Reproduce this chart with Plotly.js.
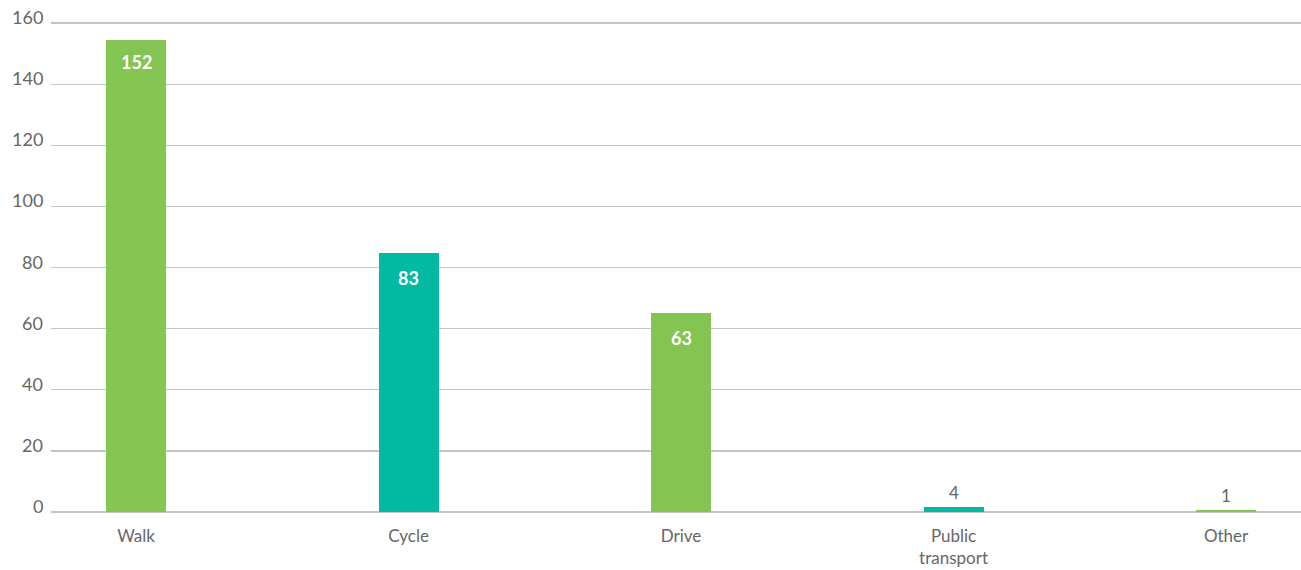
<!DOCTYPE html>
<html>
<head>
<meta charset="utf-8">
<script src="https://cdn.plot.ly/plotly-3.0.1.min.js"></script>
<style>html,body{margin:0;padding:0;background:#fff;}#chart{width:1301px;height:570px;}</style>
</head>
<body>
<div id="chart"></div>
<script>
// Categories and values
const categories = ["Walk", "Cycle", "Drive", "Public transport", "Other"];
const tickLabels = ["Walk", "Cycle", "Drive", "Public<br>transport", "Other"];
// bar heights as drawn in the reference
const barHeights = [154.5, 84.7, 65.1, 1.5, 0.6];
// value labels printed on the bars
const valueLabels = ["152", "83", "63", "4", "1"];
const barColors = ["#83c452", "#02b9a2", "#83c452", "#02b9a2", "#83c452"];
const yTicks = [0, 20, 40, 60, 80, 100, 120, 140, 160];

const FONT = "Lato, 'Source Sans Pro', 'Noto Sans', sans-serif";

const trace = {
  type: "bar",
  x: categories,
  y: barHeights,
  marker: {color: barColors},
  width: 0.22,
  hoverinfo: "skip"
};

const valueAnnotations = categories.map((c, i) => {
  const inside = barHeights[i] > 20;
  return {
    x: c, y: barHeights[i], xref: "x", yref: "y",
    text: inside ? "<b>" + valueLabels[i] + "</b>" : valueLabels[i],
    showarrow: false,
    yanchor: "middle",
    yshift: inside ? (i === 0 ? -22 : -25) : 15,
    font: {family: FONT, size: inside ? 18 : 17, color: inside ? "#ffffff" : "#666666"}
  };
});

// y tick labels sit slightly above their grid lines
const tickAnnotations = yTicks.map(v => ({
  x: 0, xref: "paper", y: v, yref: "y",
  text: String(v), showarrow: false,
  xanchor: "right", yanchor: "middle",
  xshift: -6, yshift: 6,
  font: {family: FONT, size: 18, color: "#666666"}
}));

const layout = {
  width: 1301, height: 570,
  margin: {l: 51, r: 0, t: 17, b: 58},
  paper_bgcolor: "#ffffff", plot_bgcolor: "#ffffff",
  showlegend: false,
  bargap: 0,
  xaxis: {
    type: "category",
    range: [-0.312, 4.275],
    tickvals: categories,
    ticktext: tickLabels,
    showgrid: false,
    zeroline: false,
    showline: false,
    ticks: "",
    ticklabelstandoff: 12,
    tickfont: {family: FONT, size: 17, color: "#666666"}
  },
  yaxis: {
    range: [0, 162],
    tickvals: yTicks,
    showticklabels: false,
    showgrid: true,
    gridcolor: "#c4c4c4",
    gridwidth: 1.3,
    zeroline: true,
    zerolinecolor: "#c4c4c4",
    zerolinewidth: 2,
    showline: false,
    ticks: ""
  },
  annotations: valueAnnotations.concat(tickAnnotations)
};

Plotly.newPlot("chart", [trace], layout, {displayModeBar: false, staticPlot: true});
</script>
</body>
</html>
